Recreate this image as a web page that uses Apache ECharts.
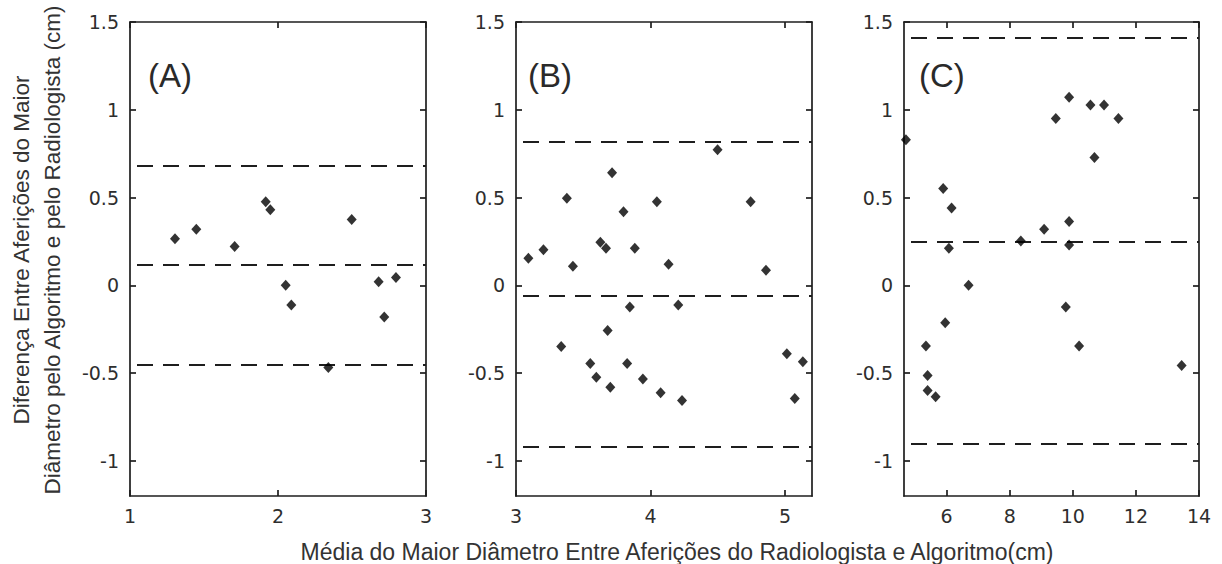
<!DOCTYPE html>
<html>
<head>
<meta charset="utf-8">
<script src="https://cdn.jsdelivr.net/npm/echarts@6/dist/echarts.min.js"></script>
<style>
html,body{margin:0;padding:0;background:#fff;}
#chart{width:1222px;height:564px;}
</style>
</head>
<body>
<div id="chart"></div>
<script>
// ---- data ----
const yTickValues = [-1, -0.5, 0, 0.5, 1, 1.5];
const yRange = [-1.2, 1.5];

const panelLabels = ["(A)", "(B)", "(C)"];

const xRangeA = [1, 3];
const xTicksA = [1, 2, 3];
const meanA = [1.304, 1.448, 1.707, 1.917, 1.948, 2.498, 2.052, 2.090, 2.340, 2.680, 2.718, 2.797];
const diffA = [0.265, 0.320, 0.221, 0.476, 0.430, 0.375, 0.000, -0.112, -0.468, 0.021, -0.180, 0.044];
const limitsA = [0.677, 0.120, -0.445];

const xRangeB = [3, 5.2];
const xTicksB = [3, 4, 5];
const meanB = [4.498, 3.714, 3.378, 4.047, 4.744, 3.799, 3.627, 3.669, 3.883, 3.204,
               3.092, 3.423, 4.134, 4.858, 3.846, 4.206, 3.681, 3.336, 3.552, 3.826,
               3.597, 3.701, 3.943, 4.075, 4.234, 5.013, 5.132, 5.072];
const diffB = [0.772, 0.641, 0.496, 0.476, 0.476, 0.419, 0.245, 0.211, 0.211, 0.202,
               0.154, 0.108, 0.120, 0.086, -0.123, -0.112, -0.257, -0.348, -0.445, -0.445,
               -0.523, -0.580, -0.534, -0.612, -0.656, -0.390, -0.435, -0.645];
const limitsB = [0.820, -0.057, -0.920];

const xRangeC = [4.65, 14];
const xTicksC = [6, 8, 10, 12, 14];
const meanC = [4.711, 5.892, 6.158, 6.073, 8.353, 9.091, 9.883, 9.883, 9.461, 9.883,
               10.56, 10.99, 11.446, 10.686, 6.697, 5.956, 5.345, 5.398, 5.398, 5.652,
               9.778, 10.20, 13.45];
const diffC = [0.829, 0.552, 0.441, 0.211, 0.253, 0.320, 0.363, 0.230, 0.951, 1.072,
               1.027, 1.027, 0.951, 0.728, 0.000, -0.213, -0.346, -0.513, -0.599, -0.635,
               -0.123, -0.346, -0.456];
const limitsC = [1.406, 0.253, -0.899];

const yTitle = "Diferença Entre Aferições do Maior\nDiâmetro pelo Algoritmo e pelo Radiologista (cm)";
const xTitle = "Média do Maior Diâmetro Entre Aferições do Radiologista e Algoritmo(cm)";

// ---- build ----
const panels = [
  {xr: xRangeA, xt: xTicksA, mx: meanA, dy: diffA, lim: limitsA, left: 130, width: 296},
  {xr: xRangeB, xt: xTicksB, mx: meanB, dy: diffB, lim: limitsB, left: 516, width: 296},
  {xr: xRangeC, xt: xTicksC, mx: meanC, dy: diffC, lim: limitsC, left: 904, width: 295}
];
const TOP = 22, HEIGHT = 474;
const axisCol = '#1e1e1e';
const labelFont = {fontFamily: 'DejaVu Sans', fontSize: 19, color: '#2e2e2e'};

const grid = [], xAxis = [], yAxis = [], series = [], graphic = [];
panels.forEach((p, i) => {
  grid.push({left: p.left, top: TOP, width: p.width, height: HEIGHT, containLabel: false});
  const lineStyle = {color: axisCol, width: 1.7};
  xAxis.push({
    type: 'value', gridIndex: i, position: 'bottom', min: p.xr[0], max: p.xr[1],
    axisLine: {show: true, onZero: false, lineStyle},
    axisTick: {show: true, inside: true, length: 6, lineStyle, customValues: p.xt},
    axisLabel: Object.assign({show: true, margin: 10, customValues: p.xt, showMinLabel: true, showMaxLabel: true}, labelFont),
    splitLine: {show: false}
  });
  xAxis.push({
    type: 'value', gridIndex: i, position: 'top', min: p.xr[0], max: p.xr[1],
    axisLine: {show: true, onZero: false, lineStyle},
    axisTick: {show: true, inside: true, length: 6, lineStyle, customValues: p.xt},
    axisLabel: {show: false},
    splitLine: {show: false}
  });
  yAxis.push({
    type: 'value', gridIndex: i, position: 'left', min: yRange[0], max: yRange[1],
    axisLine: {show: true, onZero: false, lineStyle},
    axisTick: {show: true, inside: true, length: 6, lineStyle, customValues: yTickValues},
    axisLabel: Object.assign({show: true, margin: 11, customValues: yTickValues, showMinLabel: true, showMaxLabel: true}, labelFont),
    splitLine: {show: false}
  });
  yAxis.push({
    type: 'value', gridIndex: i, position: 'right', min: yRange[0], max: yRange[1],
    axisLine: {show: true, onZero: false, lineStyle},
    axisTick: {show: true, inside: true, length: 6, lineStyle, customValues: yTickValues},
    axisLabel: {show: false},
    splitLine: {show: false}
  });
  series.push({
    type: 'scatter',
    xAxisIndex: 2 * i, yAxisIndex: 2 * i,
    data: p.mx.map((x, k) => [x, p.dy[k]]),
    symbol: 'diamond', symbolSize: [10, 11],
    itemStyle: {color: '#000'},
    z: 5,
    markLine: {
      silent: true, symbol: ['none', 'none'],
      label: {show: false},
      lineStyle: {color: '#1e1e1e', width: 1.8, type: [16, 10], dashOffset: 19},
      data: p.lim.map(v => ({yAxis: v})),
      animation: false
    }
  });
});

const panelLabelPos = [[148, 75], [528, 75], [919, 75]];
panelLabels.forEach((t, i) => {
  graphic.push({
    type: 'text', x: panelLabelPos[i][0], y: panelLabelPos[i][1],
    style: {text: t, fontFamily: 'Liberation Sans', fontSize: 33, fill: '#2a2a2a',
            align: 'left', verticalAlign: 'middle'}
  });
});
graphic.push({
  type: 'text', x: 37, y: 250, rotation: Math.PI / 2,
  style: {text: yTitle, fontFamily: 'Liberation Sans', fontSize: 22.5, lineHeight: 31,
          fill: '#333', align: 'center', verticalAlign: 'middle'}
});
graphic.push({
  type: 'text', x: 677, y: 552,
  style: {text: xTitle, fontFamily: 'Liberation Sans', fontSize: 23,
          fill: '#333', align: 'center', verticalAlign: 'middle'}
});

const chart = echarts.init(document.getElementById('chart'), null, {renderer: 'svg'});
chart.setOption({
  animation: false,
  backgroundColor: '#fff',
  grid, xAxis, yAxis, series, graphic
});
</script>
</body>
</html>
